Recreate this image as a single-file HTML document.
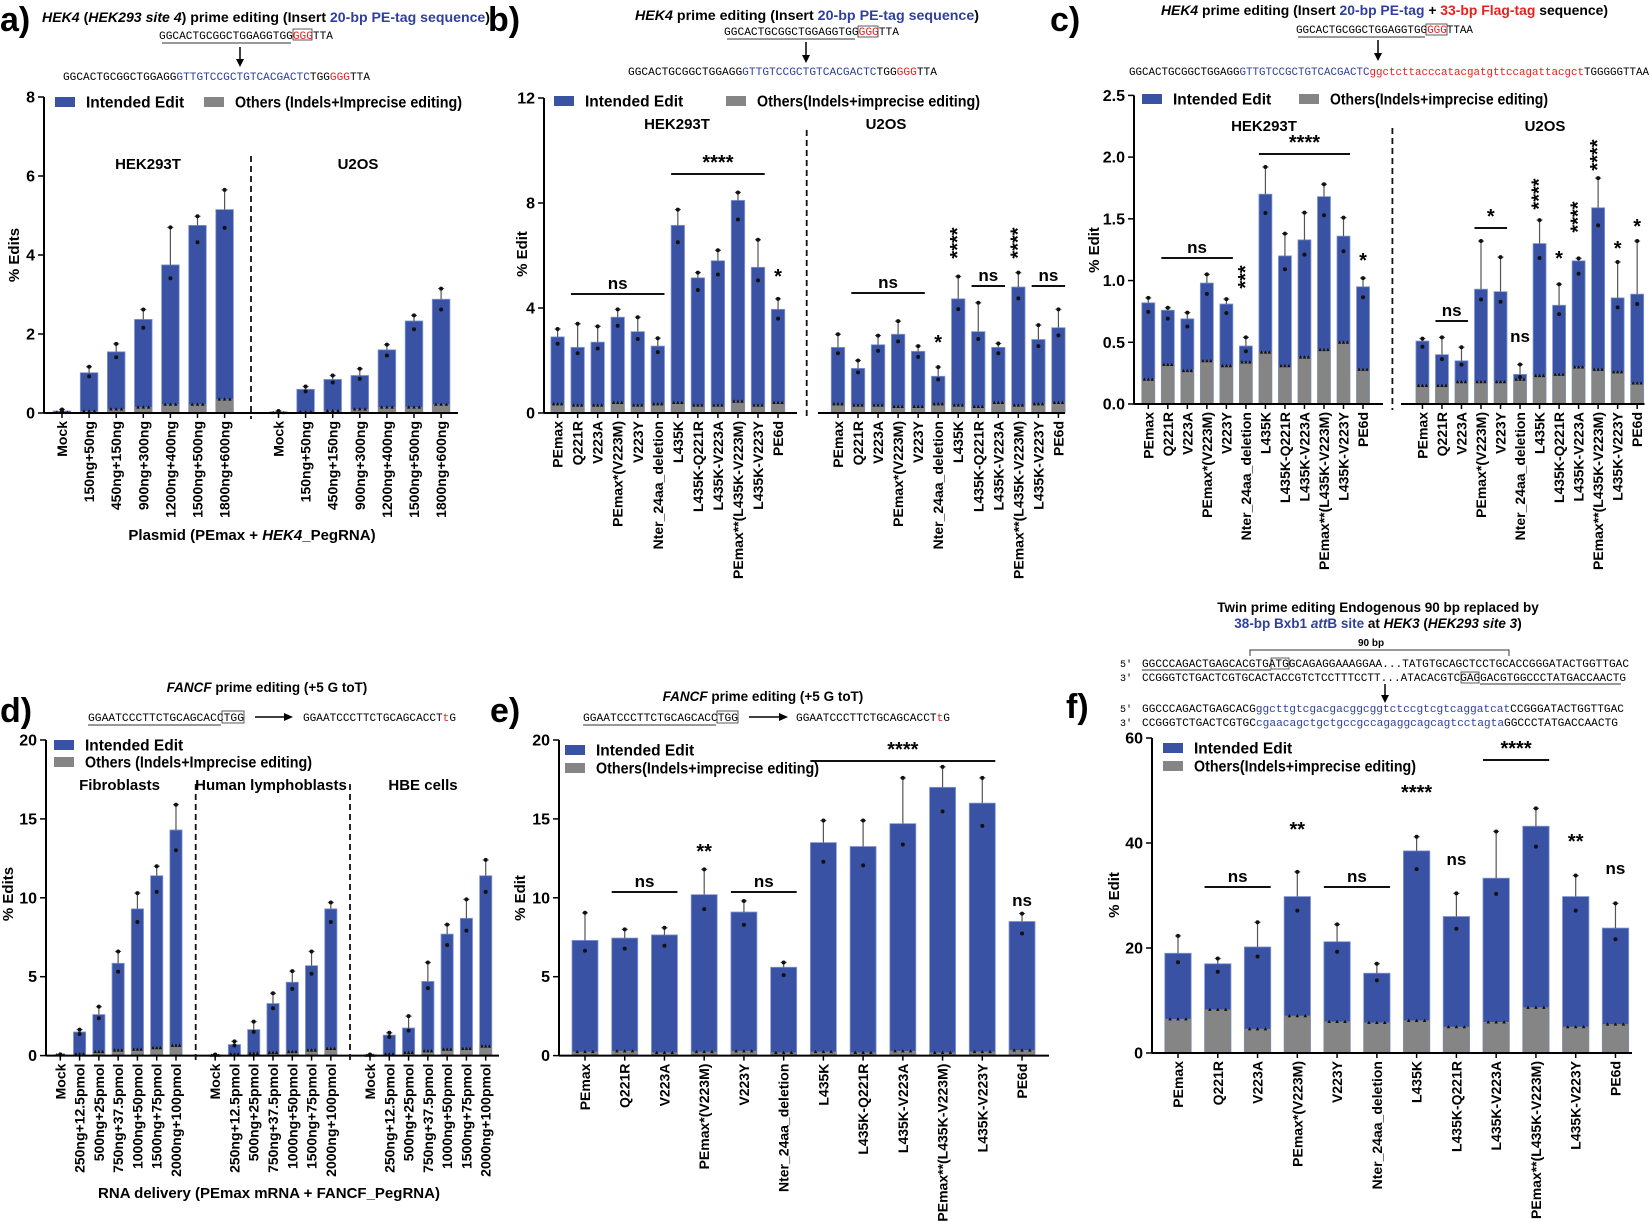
<!DOCTYPE html>
<html><head><meta charset="utf-8"><style>
html,body{margin:0;padding:0;background:#fff}
svg{display:block;font-family:"Liberation Sans",Arial,sans-serif}
.b{font-weight:bold}
.seq{font-family:"Liberation Mono",monospace;font-size:11px}
</style></head><body>
<svg id="fig" xmlns="http://www.w3.org/2000/svg" width="1650" height="1222" viewBox="0 0 1650 1222">
<rect width="1650" height="1222" fill="#fff"/>
<g class="b" font-size="34">
<text x="0" y="31">a)</text><text x="488" y="31">b)</text><text x="1050" y="31">c)</text>
<text x="0" y="722">d)</text><text x="490" y="722">e)</text><text x="1066" y="718">f)</text>
</g>
<g class="b" font-size="13.5">
<text x="42" y="22" textLength="448" lengthAdjust="spacingAndGlyphs"><tspan font-style="italic">HEK4</tspan> (<tspan font-style="italic">HEK293 site 4</tspan>) prime editing (Insert <tspan fill="#2e3f9e">20-bp PE-tag sequence</tspan>)</text>
<text x="635" y="20" textLength="344" lengthAdjust="spacingAndGlyphs"><tspan font-style="italic">HEK4</tspan> prime editing (Insert <tspan fill="#2e3f9e">20-bp PE-tag sequence</tspan>)</text>
<text x="1161" y="15" textLength="447" lengthAdjust="spacingAndGlyphs"><tspan font-style="italic">HEK4</tspan> prime editing (Insert <tspan fill="#2e3f9e">20-bp PE-tag</tspan> + <tspan fill="#e8201e">33-bp Flag-tag</tspan> sequence)</text>
<text x="267" y="692" text-anchor="middle"><tspan font-style="italic">FANCF</tspan> prime editing (+5 G toT)</text>
<text x="763" y="701" text-anchor="middle"><tspan font-style="italic">FANCF</tspan> prime editing (+5 G toT)</text>
<text x="1378" y="612" text-anchor="middle">Twin prime editing Endogenous 90 bp replaced by</text>
<text x="1378" y="628" text-anchor="middle"><tspan fill="#2e3f9e">38-bp Bxb1 <tspan font-style="italic">att</tspan>B site</tspan> at <tspan font-style="italic">HEK3</tspan> (<tspan font-style="italic">HEK293 site 3</tspan>)</text>
<text x="1371" y="646" text-anchor="middle" font-size="10">90 bp</text>
</g>
<g class="seq">
<text x="159" y="39" textLength="174" lengthAdjust="spacingAndGlyphs">GGCACTGCGGCTGGAGGTGG<tspan fill="#e8201e">GGG</tspan>TTA</text>
<rect x="293" y="29" width="19" height="11" fill="none" stroke="#333" stroke-width="0.8"/><line x1="162" y1="43" x2="291" y2="43" stroke="#333"/>
<line x1="240" y1="47" x2="240" y2="62" stroke="#000" stroke-width="1.5"/><path d="M236 59 L240 67 L244 59 Z"/>
<text x="63" y="80" textLength="307" lengthAdjust="spacingAndGlyphs">GGCACTGCGGCTGGAGG<tspan fill="#2e3f9e">GTTGTCCGCTGTCACGACTC</tspan>TGG<tspan fill="#e8201e">GGG</tspan>TTA</text>

<text x="724" y="35" textLength="175" lengthAdjust="spacingAndGlyphs">GGCACTGCGGCTGGAGGTGG<tspan fill="#e8201e">GGG</tspan>TTA</text>
<rect x="858" y="26" width="20" height="11" fill="none" stroke="#333" stroke-width="0.8"/><line x1="727" y1="39" x2="855" y2="39" stroke="#333"/>
<line x1="806" y1="42" x2="806" y2="57" stroke="#000" stroke-width="1.5"/><path d="M802 55 L806 63 L810 55 Z"/>
<text x="628" y="75" textLength="309" lengthAdjust="spacingAndGlyphs">GGCACTGCGGCTGGAGG<tspan fill="#2e3f9e">GTTGTCCGCTGTCACGACTC</tspan>TGG<tspan fill="#e8201e">GGG</tspan>TTA</text>

<text x="1296" y="33" textLength="177" lengthAdjust="spacingAndGlyphs">GGCACTGCGGCTGGAGGTGG<tspan fill="#e8201e">GGG</tspan>TTAA</text>
<rect x="1426" y="24" width="21" height="11" fill="none" stroke="#333" stroke-width="0.8"/><line x1="1298" y1="37" x2="1425" y2="37" stroke="#333"/>
<line x1="1378" y1="40" x2="1378" y2="55" stroke="#000" stroke-width="1.5"/><path d="M1374 53 L1378 61 L1382 53 Z"/>
<text x="1129" y="75" textLength="520" lengthAdjust="spacingAndGlyphs">GGCACTGCGGCTGGAGG<tspan fill="#2e3f9e">GTTGTCCGCTGTCACGACTC</tspan><tspan fill="#e8201e">ggctcttacccatacgatgttccagattacgct</tspan>TGGGGGTTAA</text>

<text x="88" y="721" textLength="156" lengthAdjust="spacingAndGlyphs">GGAATCCCTTCTGCAGCACCTGG</text>
<rect x="222" y="711" width="22" height="12" fill="none" stroke="#333" stroke-width="0.8"/><line x1="88" y1="725" x2="221" y2="725" stroke="#333"/>
<line x1="255" y1="717" x2="286" y2="717" stroke="#000" stroke-width="1.5"/><path d="M284 713 L293 717 L284 721 Z"/>
<text x="303" y="721" textLength="153" lengthAdjust="spacingAndGlyphs">GGAATCCCTTCTGCAGCACCT<tspan fill="#e8201e">t</tspan>G</text>

<text x="583" y="721" textLength="155" lengthAdjust="spacingAndGlyphs">GGAATCCCTTCTGCAGCACCTGG</text>
<rect x="717" y="711" width="21" height="12" fill="none" stroke="#333" stroke-width="0.8"/><line x1="583" y1="725" x2="716" y2="725" stroke="#333"/>
<line x1="749" y1="717" x2="781" y2="717" stroke="#000" stroke-width="1.5"/><path d="M779 713 L788 717 L779 721 Z"/>
<text x="796" y="721" textLength="154" lengthAdjust="spacingAndGlyphs">GGAATCCCTTCTGCAGCACCT<tspan fill="#e8201e">t</tspan>G</text>

<path d="M1250 656 L1250 650 L1509 650 L1509 656" fill="none" stroke="#333"/>
<text x="1120" y="667" font-size="10">5'</text><text x="1120" y="681" font-size="10">3'</text>
<text x="1120" y="712" font-size="10">5'</text><text x="1120" y="726" font-size="10">3'</text>
<text x="1142" y="667" textLength="487" lengthAdjust="spacingAndGlyphs">GGCCCAGACTGAGCACGTGATGGCAGAGGAAAGGAA...TATGTGCAGCTCCTGCACCGGGATACTGGTTGAC</text>
<text x="1142" y="681" textLength="484" lengthAdjust="spacingAndGlyphs">CCGGGTCTGACTCGTGCACTACCGTCTCCTTTCCTT...ATACACGTCGAGGACGTGGCCCTATGACCAACTG</text>
<rect x="1271" y="658" width="18" height="11" fill="none" stroke="#333" stroke-width="0.8"/>
<rect x="1461" y="672" width="18" height="11" fill="none" stroke="#333" stroke-width="0.8"/>
<line x1="1142" y1="670" x2="1271" y2="670" stroke="#333"/><line x1="1480" y1="684" x2="1621" y2="684" stroke="#333"/>
<line x1="1385" y1="684" x2="1385" y2="697" stroke="#000" stroke-width="1.5"/><path d="M1381 695 L1385 703 L1389 695 Z"/>
<text x="1142" y="712" textLength="482" lengthAdjust="spacingAndGlyphs">GGCCCAGACTGAGCACG<tspan fill="#2e3f9e">ggcttgtcgacgacggcggtctccgtcgtcaggatcat</tspan>CCGGGATACTGGTTGAC</text>
<text x="1142" y="726" textLength="476" lengthAdjust="spacingAndGlyphs">CCGGGTCTGACTCGTGC<tspan fill="#2e3f9e">cgaacagctgctgccgccagaggcagcagtcctagta</tspan>GGCCCTATGACCAACTG</text>
</g>
<g id="charts"></g>
</svg>
<script>
const aCats = ["Mock","150ng+50ng","450ng+150ng","900ng+300ng","1200ng+400ng","1500ng+500ng","1800ng+600ng","Mock","150ng+50ng","450ng+150ng","900ng+300ng","1200ng+400ng","1500ng+500ng","1800ng+600ng"];
const aIntended = [0.05,1.02,1.55,2.37,3.75,4.75,5.15,0.03,0.6,0.85,0.95,1.6,2.33,2.88];
const aError = [0.09,1.17,1.75,2.62,4.7,4.98,5.65,0.05,0.67,0.95,1.12,1.73,2.47,3.15];
const aOthers = [0.02,0.05,0.1,0.15,0.22,0.22,0.35,0.01,0.03,0.06,0.1,0.15,0.15,0.22];

const varCats = ["PEmax","Q221R","V223A","PEmax*(V223M)","V223Y","Nter_24aa_deletion","L435K","L435K-Q221R","L435K-V223A","PEmax**(L435K-V223M)","L435K-V223Y","PE6d"];
const bCats = varCats.concat(varCats);
const bIntended = [2.9,2.5,2.7,3.65,3.1,2.55,7.15,5.15,5.8,8.1,5.55,3.95, 2.5,1.7,2.6,3.0,2.35,1.4,4.35,3.1,2.5,4.8,2.8,3.25];
const bError = [3.2,3.4,3.3,3.95,3.65,2.85,7.75,5.35,6.2,8.4,6.6,4.35, 3.0,2.0,2.95,3.5,2.55,1.75,5.2,4.2,2.65,5.35,3.35,3.95];
const bOthers = [0.35,0.3,0.3,0.4,0.3,0.35,0.4,0.3,0.3,0.45,0.3,0.4, 0.35,0.3,0.3,0.25,0.25,0.35,0.3,0.25,0.4,0.3,0.35,0.4];

const cCats = varCats.concat(varCats);
const cIntended = [0.82,0.76,0.69,0.98,0.81,0.47,1.7,1.2,1.33,1.68,1.36,0.95, 0.51,0.4,0.35,0.93,0.91,0.24,1.3,0.8,1.16,1.59,0.86,0.89];
const cError = [0.86,0.78,0.74,1.05,0.85,0.54,1.92,1.38,1.55,1.78,1.51,1.02, 0.53,0.54,0.46,1.32,1.19,0.32,1.49,0.97,1.18,1.83,1.15,1.32];
const cOthers = [0.2,0.32,0.27,0.35,0.31,0.34,0.42,0.31,0.38,0.44,0.5,0.28, 0.15,0.15,0.18,0.18,0.18,0.2,0.23,0.24,0.3,0.28,0.26,0.17];

const dGroup = ["Mock","250ng+12.5pmol","500ng+25pmol","750ng+37.5pmol","1000ng+50pmol","1500ng+75pmol","2000ng+100pmol"];
const dCats = dGroup.concat(dGroup, dGroup);
const dIntended = [0.05,1.5,2.6,5.85,9.3,11.4,14.3, 0.05,0.7,1.65,3.3,4.65,5.7,9.3, 0.05,1.3,1.75,4.7,7.7,8.7,11.4];
const dError = [0.08,1.65,3.1,6.6,10.3,12.0,15.9, 0.07,0.9,2.15,3.95,5.35,6.6,9.7, 0.07,1.45,2.5,5.9,8.3,9.9,12.4];
const dOthers = [0.05,0.1,0.25,0.35,0.4,0.5,0.65, 0.02,0.1,0.15,0.2,0.25,0.35,0.45, 0.02,0.1,0.2,0.3,0.4,0.45,0.6];

const eCats = varCats;
const eIntended = [7.3,7.45,7.65,10.2,9.1,5.6,13.5,13.25,14.7,17.0,16.0,8.5];
const eError = [9.05,8.0,8.1,11.8,9.8,5.9,14.9,14.9,17.6,18.3,17.6,9.0];
const eOthers = [0.25,0.3,0.2,0.25,0.3,0.2,0.25,0.2,0.3,0.2,0.25,0.35];

const fCats = varCats;
const fIntended = [19,17,20.2,29.8,21.2,15.2,38.5,26,33.3,43.2,29.8,23.8];
const fError = [22.3,18,24.9,34.5,24.5,17,41.2,30.4,42.2,46.6,33.8,28.5];
const fOthers = [6.5,8.3,4.6,7.1,6.0,5.8,6.2,5.0,5.9,8.7,5.0,5.5];

const aTicks = [0,2,4,6,8];
const bTicks = [0,4,8,12];
const cTicks = [0,0.5,1.0,1.5,2.0,2.5];
const dTicks = [0,5,10,15,20];
const eTicks = [0,5,10,15,20];
const fTicks = [0,20,40,60];

const NS = "http://www.w3.org/2000/svg";
const root = document.getElementById("charts");
function mk(tag, parent, attrs) {
  const e = document.createElementNS(NS, tag);
  for (const k in attrs) e.setAttribute(k, attrs[k]);
  parent.appendChild(e);
  return e;
}
const BLUE = "#3a52a4", EDGE = "#8497d2", GRAY = "#858585";

function panel(p) {
  const g = mk("g", root, {});
  
  
  const y = v => p.y0 - v / p.vmax * (p.y0 - p.yTop);
  const xOf = i => p.start + i * p.step + Math.floor(i / p.per) * p.shift;
  p.vals.forEach((v, i) => {
    const x = xOf(i), w = p.bw;
    const bar = mk("rect", g, {x: x - w/2, y: y(v), width: w, height: y(0) - y(v), fill: BLUE, stroke: EDGE, "stroke-width": 0.8});
    
    
    const ob = mk("rect", g, {x: x - w/2, y: y(p.others[i]), width: w, height: y(0) - y(p.others[i]), fill: GRAY});
    
    
    const eb = mk("path", g, {d: `M${x} ${y(v)} V${y(p.errs[i])} M${x-3} ${y(p.errs[i])} H${x+3}`, stroke: "#555", "stroke-width": 1.2, fill: "none"});
    
    
    const d1 = mk("circle", g, {cx: x, cy: y(p.errs[i]), r: 2, fill: "#111"});
    
    
    const d2 = mk("circle", g, {cx: x, cy: y(v) + 0.09 * (y(0) - y(v)), r: 2, fill: "#111"});
    
    
    [-w*0.3, 0, w*0.3].forEach(dx => {
      const t = mk("path", g, {d: `M${x+dx-1.8} ${y(p.others[i])+1.5} L${x+dx} ${y(p.others[i])-1.8} L${x+dx+1.8} ${y(p.others[i])+1.5}Z`, fill: "#111"});
      
      
    });
    const lab = mk("text", g, {x: 0, y: 0, transform: `translate(${x+5},${p.y0+8}) rotate(-90)`, "text-anchor": "end", "font-size": 14, "font-weight": "bold"});
    lab.textContent = p.cats[i];
    
    
    mk("line", g, {x1: x, y1: p.y0, x2: x, y2: p.y0 + 5, stroke: "#000", "stroke-width": 1.5});
  });
  const ya = mk("line", g, {x1: p.ax, y1: p.yTop, x2: p.ax, y2: p.y0, stroke: "#000", "stroke-width": 2});
  
  
  const segs = p.gap ? [[p.ax, p.gap[0]], [p.gap[1], p.axEnd]] : [[p.ax, p.axEnd]];
  segs.forEach(s => {
    const xa = mk("line", g, {x1: s[0], y1: p.y0, x2: s[1], y2: p.y0, stroke: "#000", "stroke-width": 2});
    
    
  });
  p.ticks.forEach(t => {
    mk("line", g, {x1: p.ax - 6, y1: y(t), x2: p.ax, y2: y(t), stroke: "#000", "stroke-width": 1.5});
    const tl = mk("text", g, {x: p.ax - 9, y: y(t) + 5.5, "text-anchor": "end", "font-size": 16, "font-weight": "bold"});
    tl.textContent = p.fmt ? t.toFixed(1) : String(t);
    
    
  });
  const yl = mk("text", g, {x: 0, y: 0, transform: `translate(${p.ylx},${p.yly}) rotate(-90)`, "text-anchor": "middle", "font-size": 15, "font-weight": "bold"});
  yl.textContent = p.ylabel;
  
  
  (p.dashes || []).forEach(dx => {
    const dl = mk("line", g, {x1: dx, y1: p.dashTop, x2: dx, y2: p.y0 + 6, stroke: "#111", "stroke-width": 1.8, "stroke-dasharray": "6,4"});
    
    
  });
  (p.groups || []).forEach(gl => {
    const t = mk("text", g, {x: gl[1], y: gl[2], "text-anchor": "middle", "font-size": 15, "font-weight": "bold"});
    t.textContent = gl[0];
    
    
  });
  const L = p.leg;
  const l1 = mk("rect", g, {x: L[0], y: L[1] - 5, width: 20, height: 10, fill: BLUE});
  
  
  const t1 = mk("text", g, {x: L[0] + 31, y: L[1] + 5.5, "font-size": 15.5, "font-weight": "bold"});
  t1.textContent = "Intended Edit";
  
  
  const l2 = mk("rect", g, {x: L[2], y: L[3] - 5, width: 20, height: 10, fill: GRAY});
  
  
  const t2 = mk("text", g, {x: L[2] + 31, y: L[3] + 5.5, "font-size": 15.5, "font-weight": "bold", textLength: L[4], lengthAdjust: "spacingAndGlyphs"});
  t2.textContent = p.othersLabel;
  
  
  (p.sig || []).forEach(s => {
    if (s[2] !== null) {
      const ln = mk("line", g, {x1: xOf(s[1]) - p.bw/2, y1: s[3], x2: xOf(s[2]) + p.bw/2, y2: s[3], stroke: "#111", "stroke-width": 2});
      
      
      const t = mk("text", g, {x: (xOf(s[1]) + xOf(s[2])) / 2, y: s[3] - 5, "text-anchor": "middle", "font-size": s[0] === "ns" ? 17 : 20, "font-weight": "bold"});
      t.textContent = s[0];
      
      
    } else if (s[4]) {
      const t = mk("text", g, {x: 0, y: 0, transform: `translate(${xOf(s[1]) + 6},${s[3]}) rotate(-90)`, "text-anchor": "middle", "font-size": 20, "font-weight": "bold"});
      t.textContent = s[0];
      
      
    } else {
      const t = mk("text", g, {x: xOf(s[1]), y: s[3], "text-anchor": "middle", "font-size": s[0] === "ns" ? 17 : 20, "font-weight": "bold"});
      t.textContent = s[0];
      
      
    }
  });
  if (p.xtitle) {
    const xt = mk("text", g, {x: p.xtitle[1], y: p.xtitle[2], "text-anchor": "middle", "font-size": 15, "font-weight": "bold"});
    xt.innerHTML = p.xtitle[0];
    
    
  }
}

panel({name: "panel-a-chart", cats: aCats, vals: aIntended, errs: aError, others: aOthers, ticks: aTicks,
  ax: 44, y0: 413, yTop: 97, vmax: 8, start: 62, step: 27.1, per: 7, shift: 26.8, bw: 17.6, axEnd: 458,
  ylabel: "% Edits", ylx: 19, yly: 255, dashes: [251], dashTop: 156,
  groups: [["HEK293T", 148, 169], ["U2OS", 358, 169]],
  leg: [55, 102, 204, 102, 227], othersLabel: "Others (Indels+Imprecise editing)",
  xtitle: ["Plasmid (PEmax + <tspan font-style='italic'>HEK4</tspan>_PegRNA)", 252, 540]});

panel({name: "panel-b-chart", cats: bCats, vals: bIntended, errs: bError, others: bOthers, ticks: bTicks,
  ax: 544, y0: 413, yTop: 98, vmax: 12, start: 557.6, step: 20.04, per: 12, shift: 39.9, bw: 13.4, axEnd: 1065, gap: [797, 818],
  ylabel: "% Edit", ylx: 527, yly: 254, dashes: [806.7], dashTop: 130,
  groups: [["HEK293T", 677, 129], ["U2OS", 886, 129]],
  leg: [554, 101, 726, 101, 223], othersLabel: "Others(Indels+imprecise editing)",
  sig: [["ns", 1, 5, 294], ["****", 6, 10, 174], ["*", 11, null, 283], ["ns", 13, 16, 293], ["*", 17, null, 349],
        ["****", 18, null, 243, true], ["ns", 19, 20, 286], ["****", 21, null, 243, true], ["ns", 22, 23, 286]]});

panel({name: "panel-c-chart", cats: cCats, vals: cIntended, errs: cError, others: cOthers, ticks: cTicks, fmt: true,
  ax: 1134, y0: 404, yTop: 95.4, vmax: 2.5, start: 1148.3, step: 19.52, per: 12, shift: 39.9, bw: 13, axEnd: 1644.5, gap: [1383, 1401],
  ylabel: "% Edit", ylx: 1099, yly: 250, dashes: [1392.4], dashTop: 128,
  groups: [["HEK293T", 1264, 131], ["U2OS", 1545, 131]],
  leg: [1142, 99, 1299, 99, 218], othersLabel: "Others(Indels+imprecise editing)",
  sig: [["ns", 1, 4, 258], ["****", 6, 10, 154], ["***", 5, null, 277, true], ["*", 11, null, 267],
        ["ns", 13, 14, 321], ["ns", 17, null, 342], ["*", 15, 16, 228], ["****", 18, null, 194, true],
        ["*", 19, null, 265], ["****", 20, null, 217, true], ["****", 21, null, 155, true], ["*", 22, null, 255], ["*", 23, null, 233]]});

panel({name: "panel-d-chart", cats: dCats, vals: dIntended, errs: dError, others: dOthers, ticks: dTicks,
  ax: 46, y0: 1055.6, yTop: 740, vmax: 20, start: 60.3, step: 19.28, per: 7, shift: 19.9, bw: 12.2, axEnd: 499,
  ylabel: "% Edits", ylx: 13, yly: 894, dashes: [195.7, 350], dashTop: 784,
  groups: [["Fibroblasts", 119.5, 790], ["Human lymphoblasts", 271, 790], ["HBE cells", 423, 790]],
  leg: [54, 745, 54, 762, 227], othersLabel: "Others (Indels+Imprecise editing)",
  xtitle: ["RNA delivery (PEmax mRNA + FANCF_PegRNA)", 269, 1198]});

panel({name: "panel-e-chart", cats: eCats, vals: eIntended, errs: eError, others: eOthers, ticks: eTicks,
  ax: 559, y0: 1055.6, yTop: 740, vmax: 20, start: 585, step: 39.73, per: 12, shift: 0, bw: 26, axEnd: 1049,
  ylabel: "% Edit", ylx: 525, yly: 898,
  leg: [565, 750, 565, 768, 223], othersLabel: "Others(Indels+imprecise editing)",
  sig: [["ns", 1, 2, 892], ["ns", 4, 5, 892], ["**", 3, null, 858], ["****", 6, 10, 761], ["ns", 11, null, 906]]});

panel({name: "panel-f-chart", cats: fCats, vals: fIntended, errs: fError, others: fOthers, ticks: fTicks,
  ax: 1152, y0: 1053, yTop: 738, vmax: 60, start: 1178, step: 39.77, per: 12, shift: 0, bw: 26.4, axEnd: 1632,
  ylabel: "% Edit", ylx: 1119, yly: 895,
  leg: [1163, 748, 1163, 766, 222], othersLabel: "Others(Indels+imprecise editing)",
  sig: [["ns", 1, 2, 887], ["ns", 4, 5, 887], ["**", 3, null, 836], ["****", 6, null, 799], ["ns", 7, null, 865],
        ["****", 8, 9, 760], ["**", 10, null, 848], ["ns", 11, null, 874]]});
</script>
</body></html>
